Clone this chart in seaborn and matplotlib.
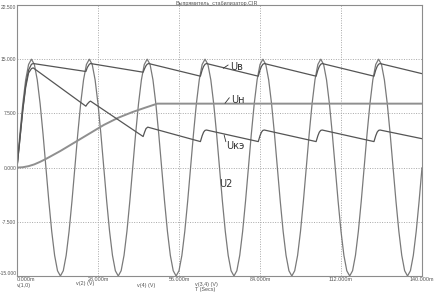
import matplotlib
matplotlib.use("Agg")
import matplotlib.pyplot as plt
import seaborn as sns
import pandas as pd

# ---------------- data (time in ms, voltage in V) ----------------
t_u2 = list(range(0, 141))
u2 = [
    0.0, 4.64, 8.82, 12.14, 14.27, 15.0, 14.27, 12.14, 8.82, 4.64, 0.0, -4.64, -8.82, -12.14, -14.27, -15.0, -14.27, -12.14, -8.82, -4.64,
    0.0, 4.64, 8.82, 12.14, 14.27, 15.0, 14.27, 12.14, 8.82, 4.64, 0.0, -4.64, -8.82, -12.14, -14.27, -15.0, -14.27, -12.14, -8.82, -4.64,
    0.0, 4.64, 8.82, 12.14, 14.27, 15.0, 14.27, 12.14, 8.82, 4.64, 0.0, -4.64, -8.82, -12.14, -14.27, -15.0, -14.27, -12.14, -8.82, -4.64,
    0.0, 4.64, 8.82, 12.14, 14.27, 15.0, 14.27, 12.14, 8.82, 4.64, 0.0, -4.64, -8.82, -12.14, -14.27, -15.0, -14.27, -12.14, -8.82, -4.64,
    0.0, 4.64, 8.82, 12.14, 14.27, 15.0, 14.27, 12.14, 8.82, 4.64, 0.0, -4.64, -8.82, -12.14, -14.27, -15.0, -14.27, -12.14, -8.82, -4.64,
    0.0, 4.64, 8.82, 12.14, 14.27, 15.0, 14.27, 12.14, 8.82, 4.64, 0.0, -4.64, -8.82, -12.14, -14.27, -15.0, -14.27, -12.14, -8.82, -4.64,
    0.0, 4.64, 8.82, 12.14, 14.27, 15.0, 14.27, 12.14, 8.82, 4.64, 0.0, -4.64, -8.82, -12.14, -14.27, -15.0, -14.27, -12.14, -8.82, -4.64,
    0.0,
]

t_ua = [0, 1, 2, 3, 4, 5, 5.6,
        23.8, 24.3, 25.0, 25.4,
        43.6, 44.1, 44.6, 45.0, 45.5,
        63.4, 64.0, 64.5, 65.0, 65.5,
        83.4, 84.0, 84.5, 85.0, 85.5,
        103.4, 104.0, 104.5, 105.0, 105.5,
        123.4, 124.0, 124.5, 125.0, 125.5,
        140.0]
ua = [0.0, 4.0, 8.1, 11.4, 13.5, 14.3, 14.4,
      13.3, 13.85, 14.3, 14.4,
      13.2, 13.7, 14.1, 14.3, 14.4,
      12.65, 13.5, 14.0, 14.3, 14.4,
      12.65, 13.5, 14.0, 14.3, 14.4,
      12.65, 13.5, 14.0, 14.3, 14.4,
      12.65, 13.5, 14.0, 14.3, 14.4,
      13.0]

t_un = [0, 2, 4, 6, 8, 10, 15, 20, 25, 30, 35, 40, 44, 48.5, 140]
un = [0.0, 0.05, 0.2, 0.45, 0.8, 1.2, 2.3, 3.5, 4.7, 5.9, 6.9, 7.7, 8.25, 8.85, 8.85]

t_uke = [0, 1, 2, 3, 4, 5, 5.6,
         23.8, 24.3, 25.0, 25.4,
         43.6, 44.1, 44.6, 45.2,
         63.4, 64.0, 64.5, 65.0, 65.5,
         83.4, 84.0, 84.5, 85.0, 85.5,
         103.4, 104.0, 104.5, 105.0, 105.5,
         123.4, 124.0, 124.5, 125.0, 125.5,
         140.0]
uke = [0.0, 3.9, 7.9, 11.1, 13.1, 13.7, 13.8,
       8.5, 8.8, 9.1, 9.2,
       4.3, 4.9, 5.4, 5.6,
       3.6, 4.4, 4.9, 5.15, 5.2,
       3.6, 4.4, 4.9, 5.15, 5.2,
       3.6, 4.4, 4.9, 5.15, 5.2,
       3.6, 4.4, 4.9, 5.15, 5.2,
       4.0]

x_ticks = [0, 28, 56, 84, 112, 140]
x_labels = ["0.000m", "28.000m", "56.000m", "84.000m", "112.000m", "140.000m"]
y_ticks = [-15, -7.5, 0, 7.5, 15, 22.5]
y_labels = ["-15.000", "-7.500", "0.000", "7.500", "15.000", "22.500"]

title = "Выпрямитель_стабилизатор.CIR"
trace_names = ["v(1,0)", "v(2) (V)", "v(4) (V)", "v(3,4) (V)"]
x_unit = "T (Secs)"

# ---------------- figure ----------------
sns.set_theme(style="white")
plt.rcParams["font.family"] = ["DejaVu Sans"]
small_font = ["Liberation Sans Narrow", "Liberation Sans", "DejaVu Sans"]
fs = 3.9
txt_col = "#555555"

W, H = 434, 295
fig = plt.figure(figsize=(W / 100, H / 100), dpi=100)
fig.patch.set_facecolor("white")
ax = fig.add_axes([17 / W, 1 - 276 / H, 405 / W, 271 / H])
ax.set_facecolor("white")

ax.set_xlim(0, 140)
ax.set_ylim(-15, 22.5)
ax.set_xticks(x_ticks)
ax.set_xticklabels(x_labels, family=small_font, fontsize=fs, color=txt_col)
ax.set_yticks(y_ticks)
ax.set_yticklabels(y_labels, family=small_font, fontsize=3.6, color=txt_col)
ax.tick_params(axis="both", length=0)
ax.tick_params(axis="x", pad=1.0)
ax.tick_params(axis="y", pad=0.4)
ax.get_xticklabels()[0].set_ha("left")
ytl = ax.get_yticklabels()
ytl[-1].set_va("top")
ytl[0].set_va("bottom")

ax.grid(True, linestyle=(0, (1, 1.5)), color="#a8a8a8", linewidth=0.7)
for s in ax.spines.values():
    s.set_color("#8c8c8c")
    s.set_linewidth(0.8)

series = [
    (t_u2, u2, "#7a7a7a", 0.9),
    (t_un, un, "#8f8f8f", 1.4),
    (t_ua, ua, "#555555", 0.9),
    (t_uke, uke, "#555555", 0.9),
]
for tx, vy, col, lw in series:
    df = pd.DataFrame({"t": tx, "v": vy})
    sns.lineplot(data=df, x="t", y="v", ax=ax, color=col, linewidth=lw,
                 estimator=None, sort=False, legend=False)
ax.set_xlabel("")
ax.set_ylabel("")

# annotations
ann_col = "#333333"
ax.plot([71.3, 73.0], [13.74, 14.2], color=ann_col, lw=0.6)
ax.text(73.6, 13.9, "Uв", fontsize=7, color=ann_col, va="center", ha="left")
ax.plot([71.9, 73.4], [8.9, 9.67], color=ann_col, lw=0.6)
ax.text(74.0, 9.35, "Uн", fontsize=7, color=ann_col, va="center", ha="left")
ax.plot([71.6, 72.2], [4.51, 3.58], color=ann_col, lw=0.6)
ax.text(72.2, 3.0, "Uкэ", fontsize=7, color=ann_col, va="center", ha="left")
ax.text(69.8, -2.3, "U2", fontsize=7, color=ann_col, va="center", ha="left")

# title and trace names
kw = dict(fontsize=fs, color=txt_col, family=small_font, va="center")
fig.text(217 / W, 1 - 4 / H, title, ha="center", **kw)
fig.text(17 / W, 1 - 285 / H, trace_names[0], ha="left", **kw)
fig.text(76 / W, 1 - 284 / H, trace_names[1], ha="left", **kw)
fig.text(137 / W, 1 - 285 / H, trace_names[2], ha="left", **kw)
fig.text(195 / W, 1 - 284.5 / H, trace_names[3], ha="left", **kw)
fig.text(195 / W, 1 - 290 / H, x_unit, ha="left", **kw)

fig.savefig("out.png", dpi=100, facecolor="white")
